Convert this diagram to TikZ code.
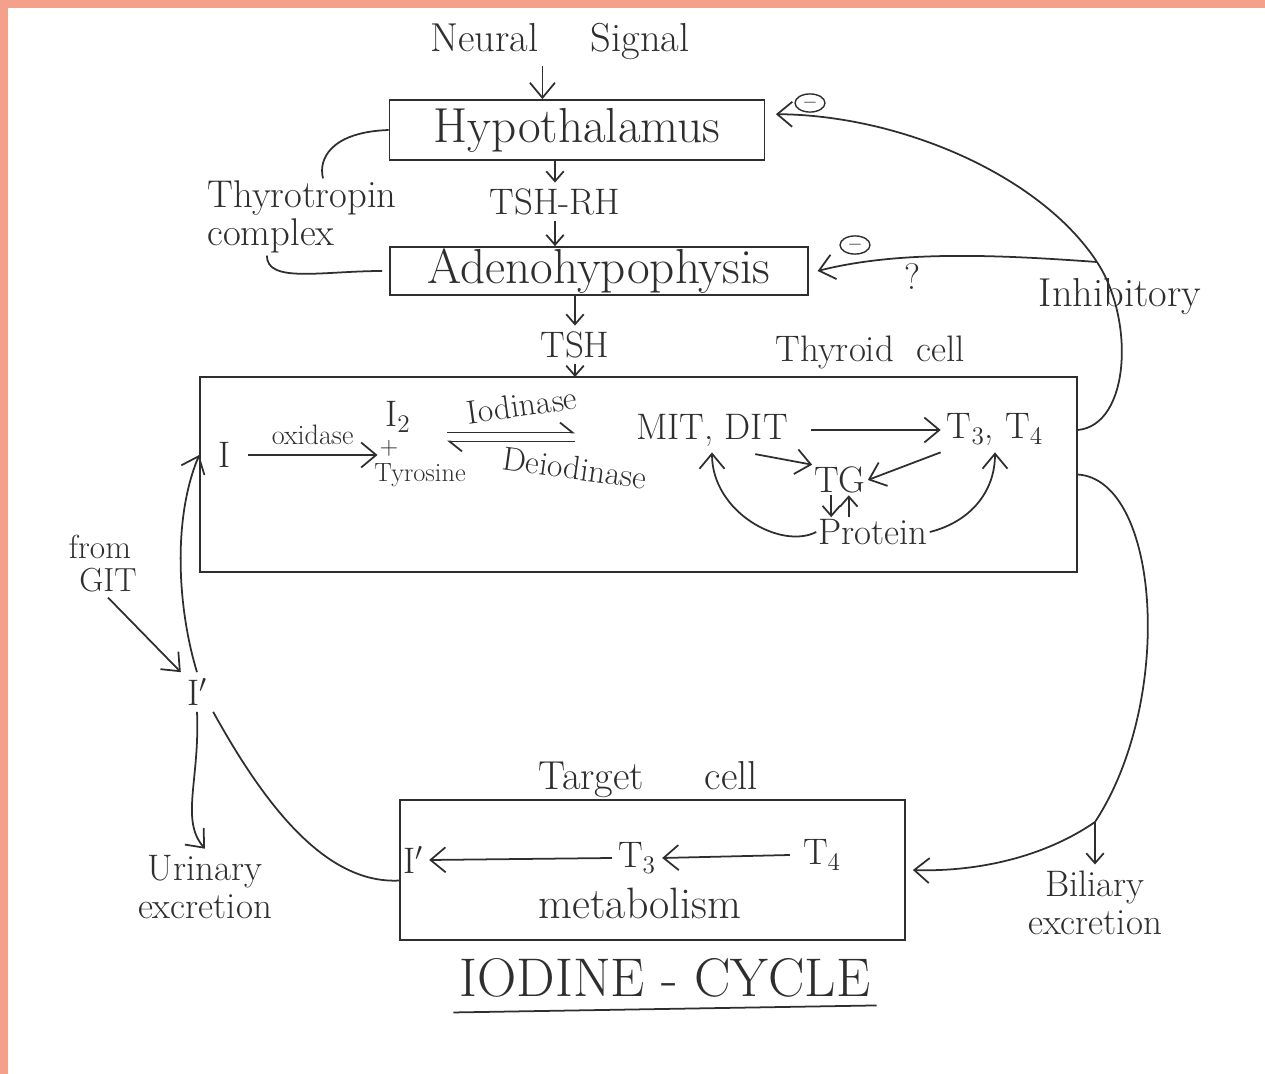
\documentclass[tikz,border=0pt]{standalone}
\usetikzlibrary{arrows.meta,shapes.geometric}
\definecolor{ink}{HTML}{2E2E2E}
\definecolor{salmon}{HTML}{F4A08A}
\begin{document}
\begin{tikzpicture}[x=0.02cm,y=-0.02cm,
  every node/.style={text=ink},
  box/.style={draw=ink,line width=1pt,rectangle,inner sep=0pt},
  big/.style={font=\fontsize{28}{30}\selectfont},
  mid/.style={font=\fontsize{21}{22}\selectfont},
  small/.style={font=\fontsize{16}{17}\selectfont},
  conn/.style={draw=ink,line width=1pt},
  arr/.style={conn,-{Straight Barb[length=3mm,width=5mm]}},
  sarr/.style={conn,-{Straight Barb[length=2mm,width=3.5mm]}},
  negc/.style={draw=ink,ellipse,line width=0.8pt,inner sep=0pt,minimum width=0.6cm,minimum height=0.36cm,font=\fontsize{11}{11}\selectfont}
]
\useasboundingbox (0,0) rectangle (1265,1074);
\fill[salmon] (0,0) rectangle (1265,8);
\fill[salmon] (0,0) rectangle (8,1074);

% top chain
\node[font=\fontsize{23}{24}\selectfont] (neural) at (560,42) {Neural\hspace{1.3em}Signal};
\node[box,big,minimum width=7.5cm,minimum height=1.2cm] (hypo) at (577,130) {Hypothalamus};
\node[mid] (tshrh) at (555,202) {TSH-RH};
\node[box,big,minimum width=8.36cm,minimum height=0.96cm] (adeno) at (599,271) {Adenohypophysis};
\node[font=\fontsize{22}{22}\selectfont,align=left,inner sep=1pt] (thyro) at (302,217) {Thyrotropin\\complex};
\node[mid] (tsh) at (575,345) {TSH};
\node[mid] (thylabel) at (870,352) {Thyroid\hspace{0.6em}cell};

\coordinate (nA) at ([xshift=-10pt]neural.south);
\draw[arr] (nA) -- (nA |- hypo.north);
\draw[sarr] (hypo.south -| tshrh) -- (tshrh.north);
\draw[sarr] (tshrh.south) -- (tshrh.south |- adeno.north);
\draw[sarr] (adeno.south -| tsh) -- (tsh.north);
\draw[sarr] (tsh.south) -- (tsh.south |- 0,377);

\draw[conn] (hypo.west) .. controls (330,132) and (318,160) .. ([xshift=12pt]thyro.north);
\draw[conn] ([xshift=-20pt]thyro.south) .. controls +(0,28) and +(-60,0) .. ([xshift=-4pt]adeno.west);

% thyroid cell
\node[box,minimum width=17.54cm,minimum height=3.9cm] (thy) at (638.5,474.5) {};
\node[mid] (Ith) at (225,455) {I};
\node[mid,inner sep=0pt] (I2) at (398,417) {I$_2$};
\node[font=\fontsize{14}{14}\selectfont,inner sep=0pt] (plus) at (389,448) {+};
\node[font=\fontsize{15}{15}\selectfont,inner sep=0pt] (tyr) at (420,475) {Tyrosine};
\coordinate (eqL) at (447,437);
\coordinate (eqR) at (575,437);
\node[font=\fontsize{19}{20}\selectfont,rotate=8,inner sep=1pt] (iod) at (522,405) {Iodinase};
\node[font=\fontsize{19}{20}\selectfont,rotate=-8,inner sep=1pt] (deiod) at (575,468) {Deiodinase};
\node[mid] (mit) at (712,430) {MIT, DIT};
\node[mid] (t34) at (995,430) {T$_3$, T$_4$};
\node[mid,inner sep=1pt] (tg) at (840,480) {TG};
\node[mid,inner sep=1pt] (prot) at (873,532) {Protein};

\draw[arr] ([xshift=6pt]Ith.east) -- ([xshift=-1pt]Ith.east -| plus.west) node[midway,above=2pt,small] (oxid) {oxidase};
\draw[conn,-{Straight Barb[left,length=2.5mm,width=4mm]}] ([yshift=2.5pt]eqL) -- ([yshift=2.5pt]eqR);
\draw[conn,-{Straight Barb[left,length=2.5mm,width=4mm]}] ([yshift=-2.5pt]eqR) -- ([yshift=-2.5pt]eqL);
\draw[arr] ([xshift=10pt]mit.east) -- (t34.west);
\draw[arr] ([xshift=-22pt,yshift=-1pt]mit.south east) -- (tg.north west);
\draw[arr] (t34.south west) -- (tg.east);
\draw[sarr] ([xshift=-5pt]tg.south) -- ([xshift=-5pt]tg.south |- prot.north);
\draw[sarr] ([xshift=5pt]tg.south |- prot.north) -- ([xshift=5pt]tg.south);
\draw[arr] (prot.west) .. controls +(-35,18) and +(0,60) .. (mit.south);
\draw[arr] (prot.east) .. controls +(40,-10) and +(0,40) .. (t34.south);

% inhibitory feedback
\node[negc] (neg1) at (810,103) {$-$};
\node[negc] (neg2) at (855,245) {$-$};
\node[mid] (qm) at (912,277) {?};
\node[font=\fontsize{23}{24}\selectfont] (inhib) at (1120,297) {Inhibitory};
\coordinate (inhibJ) at (1097,262);
\draw[conn] (thy.east |- t34) .. controls (1130,425) and (1135,320) .. (inhibJ);
\draw[arr] (inhibJ) .. controls (1040,175) and (900,115) .. ([shift={(6pt,9pt)}]hypo.east);
\draw[arr] (inhibJ) .. controls (1000,255) and (900,250) .. ([xshift=5pt]adeno.east);

% target cell
\node[font=\fontsize{23}{24}\selectfont] (tarlabel) at (648,780) {Target\hspace{1.5em}cell};
\node[box,minimum width=10.1cm,minimum height=2.8cm] (tar) at (652.5,870) {};
\node[mid] (Itar) at (413,860) {I$'$};
\node[mid] (T3t) at (637,858) {T$_3$};
\node[mid] (T4t) at (822,855) {T$_4$};
\node[font=\fontsize{25}{26}\selectfont] (metab) at (640,903) {metabolism};
\draw[arr] ([xshift=-4pt]T4t.west) -- (T3t.east);
\draw[arr] (T3t.west) -- (Itar.east);

% biliary
\node[mid,align=center] (bil) at (1095,903) {Biliary\\excretion};
\coordinate (bilJ) at (1095,822);
\draw[conn] (thy.east) .. controls (1160,480) and (1175,700) .. (bilJ);
\draw[arr] (bilJ) .. controls (1040,860) and (970,872) .. ([xshift=4pt]tar.east);
\draw[sarr] (bilJ) -- (bil.north);

% left side
\node[font=\fontsize{19}{20}\selectfont,inner sep=0pt] (gitA) at (100,547) {from};
\node[font=\fontsize{19}{20}\selectfont,inner sep=0pt] (gitB) at (108,580) {GIT};
\node[mid] (Ip) at (197,692) {I$'$};
\node[mid,align=center] (urin) at (205,887) {Urinary\\excretion};
\draw[arr] ([yshift=-3pt]gitB.south) -- (Ip.north west);
\draw[arr] (Ip.north) .. controls (178,610) and (172,520) .. (thy.west |- Ith);
\draw[arr] (Ip.south) .. controls (200,780) and (180,820) .. (urin.north);
\draw[conn] ([yshift=-6pt]tar.west) .. controls (330,884) and (270,815) .. (Ip.south east);

% title
\node[font=\fontsize{31}{32}\selectfont] (title) at (665,978) {IODINE - CYCLE};
\draw[conn] ([yshift=-5pt]title.south west) -- ([yshift=-1pt]title.south east);
\end{tikzpicture}
\end{document}
